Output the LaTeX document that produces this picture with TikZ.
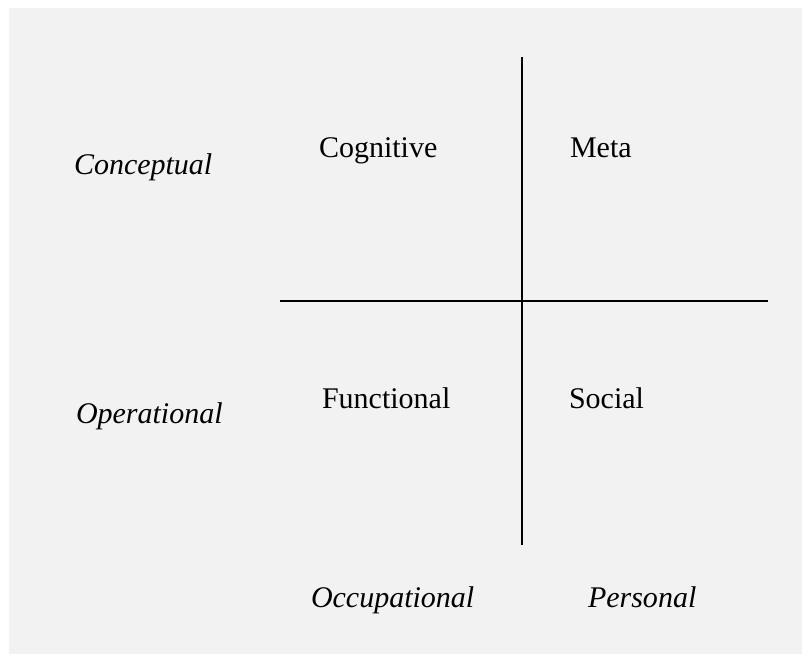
\documentclass[tikz,border=0pt]{standalone}
\usepackage{fontspec}
\setmainfont{Liberation Serif}
\definecolor{panelgray}{HTML}{F2F2F2}
\begin{document}
\begin{tikzpicture}[x=0.5pt,y=-0.5pt,line cap=butt,line width=1pt,font=\fontsize{15}{18}\selectfont,
		lbl/.style={anchor=base west,inner sep=0pt}]
				\useasboundingbox (0,0) rectangle (802,654);
				\fill[panelgray] (9,8) rectangle (802,654);
				\path (522,57) coordinate (T) (522,545) coordinate (D)
				(280,300.5) coordinate (L) (768,300.5) coordinate (R);
				\draw (T)--(D) (L)--(R);
				\path (73,174) node[lbl] (con) {\itshape Conceptual}
				(75,423) node[lbl] (ope) {\itshape Operational}
				(318,157) node[lbl] (cog) {Cognitive}
				(569,157) node[lbl] (met) {Meta}
				(321,408) node[lbl] (fun) {Functional}
				(568,408) node[lbl] (soc) {Social}
				(310,607) node[lbl] (occ) {\itshape Occupational}
				(587,607) node[lbl] (per) {\itshape Personal};
		\end{tikzpicture}
\end{document}
